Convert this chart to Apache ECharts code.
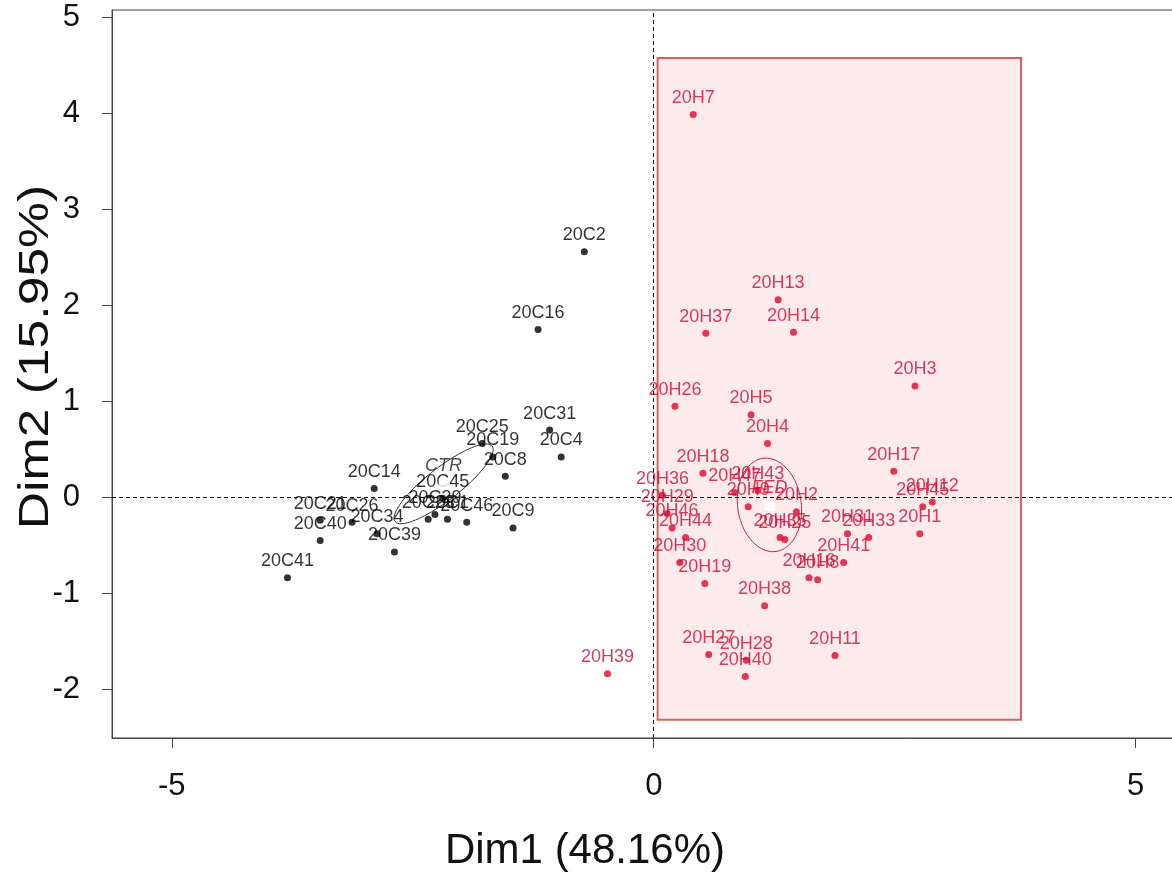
<!DOCTYPE html>
<html>
<head>
<meta charset="utf-8">
<script src="https://cdn.jsdelivr.net/npm/echarts@6/dist/echarts.min.js"></script>
<style>
  html, body { margin: 0; padding: 0; background: #fff; }
  #chart { width: 1172px; height: 873px; }
</style>
</head>
<body>
<div id="chart"></div>
<script>
// 数据 - CTR 组
var cNames = ['20C2','20C16','20C31','20C4','20C25','20C19','20C8','20C9','20C14','20C45',
              '20C29','20C23','20C1','20C46','20C21','20C26','20C40','20C34','20C39','20C41'];
var cX = [-0.72,-1.20,-1.08,-0.96,-1.78,-1.67,-1.54,-1.46,-2.90,-2.19,
          -2.27,-2.34,-2.14,-1.94,-3.46,-3.13,-3.46,-2.87,-2.69,-3.80];
var cY = [2.56,1.75,0.70,0.42,0.56,0.42,0.22,-0.32,0.09,-0.01,
          -0.18,-0.23,-0.23,-0.26,-0.24,-0.26,-0.45,-0.38,-0.57,-0.84];

// 数据 - FED 组
var hNames = ['20H7','20H13','20H37','20H14','20H3','20H26','20H5','20H4','20H18','20H17',
              '20H12','20H45','20H1','20H33','20H31','20H41','20H16','20H8','20H38','20H19',
              '20H30','20H27','20H28','20H40','20H11','20H39','20H36','20H29','20H46','20H44',
              '20H47','20H43','20H9','20H2','20H35','20H25'];
var hX = [0.41,1.29,0.54,1.45,2.71,0.22,1.01,1.18,0.51,2.49,
          2.89,2.79,2.76,2.23,2.01,1.97,1.61,1.70,1.15,0.53,
          0.27,0.57,0.96,0.95,1.88,-0.48,0.09,0.14,0.19,0.33,
          0.84,1.08,0.98,1.48,1.31,1.36];
var hY = [3.99,2.06,1.71,1.72,1.16,0.95,0.86,0.56,0.25,0.27,
          -0.05,-0.10,-0.38,-0.42,-0.38,-0.68,-0.84,-0.86,-1.13,-0.90,
          -0.68,-1.64,-1.70,-1.87,-1.65,-1.84,0.02,-0.17,-0.32,-0.42,
          0.05,0.07,-0.10,-0.15,-0.42,-0.44];

// 组中心
var centerNames = ['CTR','FED'];
var centerX = [-2.18, 1.20];
var centerY = [0.14, -0.09];

// 置信椭圆: [cx, cy, 长半轴, 短半轴, 角度]
var ellipseCTR = [-2.18, 0.14, 0.64, 0.17, 38];
var ellipseFED = [1.20, -0.08, 0.49, 0.33, 98];

// 高亮区域
var boxX = [0.04, 3.81];
var boxY = [-2.32, 4.58];

// 刻度
var xTicks = [-5, 0, 5];
var yTicks = [-2, -1, 0, 1, 2, 3, 4, 5];

var FONT = '"Liberation Sans", Arial, sans-serif';
var RED = '#e0062f';
var RED_TEXT = '#cc0c34';

function toData(names, xs, ys){
	var out = [];
	for (var i = 0; i < names.length; i++) {
		out.push({name: names[i], value: [xs[i], ys[i]]});
	}
	return out;
}

function ellipse(p){
	var th = p[4] * Math.PI / 180, pts = [];
	for (var i = 0; i <= 90; i++) {
		var t = i / 90 * 2 * Math.PI;
		pts.push([
			p[0] + p[2] * Math.cos(th) * Math.cos(t) - p[3] * Math.sin(th) * Math.sin(t),
			p[1] + p[2] * Math.sin(th) * Math.cos(t) + p[3] * Math.cos(th) * Math.sin(t)
		]);
	}
	return pts;
}

var chart = echarts.init(document.getElementById('chart'));
var option = {
	animation: false,
	backgroundColor: '#fff',
	grid: {
		left: 112, top: 10, width: 1070, height: 728,
		outerBoundsMode: 'none',
		show: true, borderColor: '#444', borderWidth: 1
	},
	xAxis: {
		type: 'value', min: -5.62, max: 5.48,
		splitLine: {show: false},
		axisLine: {show: true, onZero: false, lineStyle: {color: '#444', width: 1}},
		axisTick: {show: true, length: 10, customValues: xTicks, lineStyle: {color: '#444'}},
		axisLabel: {customValues: xTicks, fontSize: 31, color: '#111', margin: 33, fontFamily: FONT}
	},
	yAxis: {
		type: 'value', min: -2.51, max: 5.08,
		splitLine: {show: false},
		axisLine: {show: true, onZero: false, lineStyle: {color: '#444', width: 1}},
		axisTick: {show: true, length: 10, customValues: yTicks, lineStyle: {color: '#444'}},
		axisLabel: {customValues: yTicks, fontSize: 31, color: '#111', margin: 32, fontFamily: FONT}
	},
	graphic: [
		{type: 'text', x: 585, y: 851, style: {text: 'Dim1 (48.16%)', font: '42px ' + FONT, fill: '#111', textAlign: 'center', textVerticalAlign: 'middle'}},
		{type: 'text', x: 36, y: 357, rotation: Math.PI / 2, scaleX: 1.23, style: {text: 'Dim2 (15.95%)', font: '42px ' + FONT, fill: '#111', textAlign: 'center', textVerticalAlign: 'middle'}}
	],
	series: [
		{
			// 高亮框
			type: 'custom',
			z: 1,
			silent: true,
			data: [[boxX[0], boxY[0], boxX[1], boxY[1]]],
			renderItem: function(params, api){
				var p0 = api.coord([api.value(0), api.value(3)]);
				var p1 = api.coord([api.value(2), api.value(1)]);
				return {
					type: 'rect',
					shape: {x: p0[0], y: p0[1], width: p1[0] - p0[0], height: p1[1] - p0[1]},
					style: {fill: '#fcebea', stroke: '#d7625a', lineWidth: 2}
				};
			},
			markLine: {
				silent: true,
				symbol: 'none',
				label: {show: false},
				lineStyle: {color: '#111', type: [4, 3], width: 1},
				data: [{xAxis: 0}, {yAxis: 0}]
			}
		},
		{
			type: 'line', z: 3, silent: true, showSymbol: false,
			data: ellipse(ellipseCTR),
			lineStyle: {color: '#333', width: 1}
		},
		{
			type: 'line', z: 3, silent: true, showSymbol: false,
			data: ellipse(ellipseFED),
			lineStyle: {color: '#b8283e', width: 1}
		},
		{
			type: 'scatter', z: 4,
			symbolSize: 7,
			itemStyle: {color: '#000'},
			label: {show: true, position: 'top', distance: 4, formatter: '{b}', color: '#000', fontSize: 18, fontFamily: FONT},
			data: toData(cNames, cX, cY)
		},
		{
			type: 'scatter', z: 4,
			symbolSize: 7,
			itemStyle: {color: RED},
			label: {show: true, position: 'top', distance: 4, formatter: '{b}', color: RED_TEXT, fontSize: 18, fontFamily: FONT},
			data: toData(hNames, hX, hY)
		},
		{
			type: 'scatter', z: 5,
			symbol: 'emptyRect',
			symbolSize: 8,
			itemStyle: {color: '#fff', borderWidth: 1},
			label: {show: true, position: 'top', distance: 4, formatter: '{b}', fontSize: 18, fontStyle: 'italic', fontFamily: FONT},
			data: [
				{name: centerNames[0], value: [centerX[0], centerY[0]], itemStyle: {borderColor: '#333'}, label: {color: '#222'}},
				{name: centerNames[1], value: [centerX[1], centerY[1]], itemStyle: {borderColor: RED}, label: {color: RED_TEXT}}
			]
		}
	]
};
chart.setOption(option);
</script>
</body>
</html>
